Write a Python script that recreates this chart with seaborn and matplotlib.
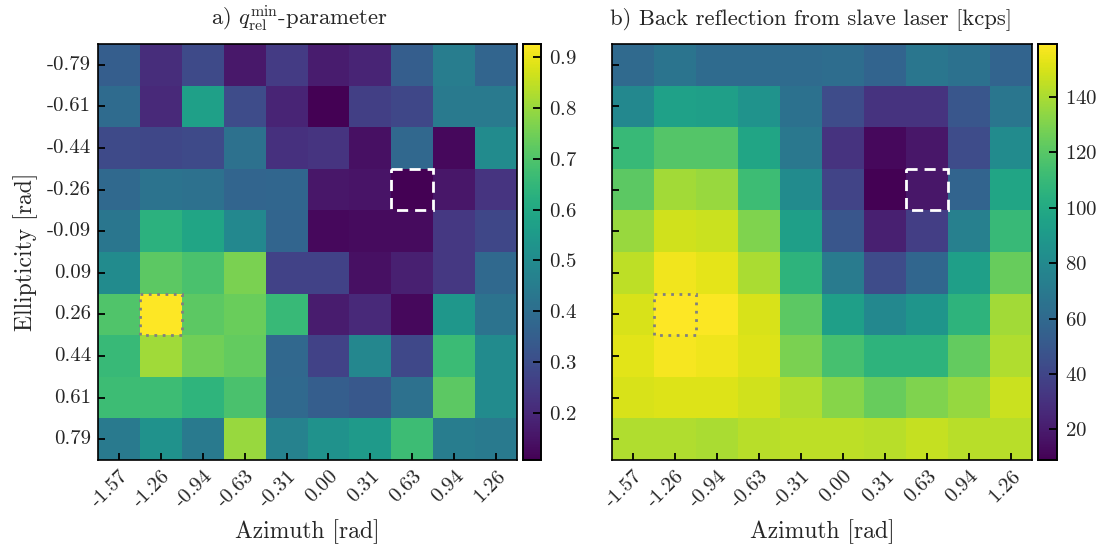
import numpy as np
import pandas as pd
import matplotlib
matplotlib.use("Agg")
import matplotlib.pyplot as plt
import matplotlib.patches as patches
import seaborn as sns

azimuth = ["-1.57", "-1.26", "-0.94", "-0.63", "-0.31", "0.00", "0.31", "0.63", "0.94", "1.26"]
ellipticity = ["-0.79", "-0.61", "-0.44", "-0.26", "-0.09", "0.09", "0.26", "0.44", "0.61", "0.79"]

q_rel_min = [
    [0.35, 0.21, 0.29, 0.16, 0.25, 0.17, 0.19, 0.35, 0.45, 0.37],
    [0.39, 0.20, 0.57, 0.295, 0.19, 0.107, 0.26, 0.28, 0.44, 0.44],
    [0.29, 0.28, 0.29, 0.41, 0.22, 0.23, 0.14, 0.38, 0.125, 0.50],
    [0.385, 0.42, 0.41, 0.37, 0.375, 0.155, 0.15, 0.11, 0.155, 0.23],
    [0.43, 0.63, 0.59, 0.49, 0.37, 0.125, 0.13, 0.13, 0.24, 0.28],
    [0.50, 0.72, 0.69, 0.76, 0.27, 0.27, 0.14, 0.18, 0.24, 0.385],
    [0.70, 0.926, 0.72, 0.74, 0.66, 0.17, 0.20, 0.125, 0.54, 0.42],
    [0.66, 0.81, 0.75, 0.73, 0.38, 0.27, 0.485, 0.285, 0.665, 0.50],
    [0.67, 0.67, 0.64, 0.69, 0.385, 0.35, 0.33, 0.41, 0.72, 0.50],
    [0.44, 0.52, 0.44, 0.80, 0.47, 0.525, 0.55, 0.67, 0.45, 0.44],
]

back_reflection = [
    [60, 67, 61, 61, 61, 62, 57, 68, 65, 57],
    [79, 94, 93, 86, 65, 43, 31, 31, 49, 68],
    [110, 119, 119, 97, 69, 31, 12, 18, 43, 81],
    [121, 138, 136, 112, 81, 39, 9, 18, 57, 97],
    [136, 148, 147, 130, 93, 49, 22, 36, 74, 110],
    [144, 156, 153, 140, 106, 71, 43, 58, 93, 124],
    [150, 159, 158, 150, 121, 93, 79, 87, 106, 138],
    [152, 157, 155, 151, 129, 115, 106, 106, 123, 141],
    [150, 151, 151, 148, 141, 132, 124, 130, 135, 147],
    [141, 141, 140, 143, 144, 144, 143, 146, 143, 143],
]

sns.set_theme(style="white")
plt.rcParams["font.family"] = "serif"
plt.rcParams["font.serif"] = ["cmr10", "DejaVu Serif"]
plt.rcParams["mathtext.fontset"] = "cm"
plt.rcParams["axes.unicode_minus"] = False
plt.rcParams["axes.formatter.use_mathtext"] = True

W, H = 1104, 546
fig = plt.figure(figsize=(W / 100, H / 100), dpi=100)

def box(x0, y0, x1, y1):
    return [x0 / W, 1 - y1 / H, (x1 - x0) / W, (y1 - y0) / H]

ax1 = fig.add_axes(box(98, 44, 517, 460))
cax1 = fig.add_axes(box(523, 44, 541, 460))
ax2 = fig.add_axes(box(612, 44, 1032, 460))
cax2 = fig.add_axes(box(1038, 44, 1057, 460))

df1 = pd.DataFrame(q_rel_min, index=ellipticity, columns=azimuth)
df2 = pd.DataFrame(back_reflection, index=ellipticity, columns=azimuth)

sns.heatmap(df1, ax=ax1, cbar_ax=cax1, cmap="viridis", square=False)
sns.heatmap(df2, ax=ax2, cbar_ax=cax2, cmap="viridis", square=False)

TICK = 15
for ax in (ax1, ax2):
    ax.set_axisbelow(False)
    for sp in ax.spines.values():
        sp.set_visible(True)
        sp.set_color("black")
        sp.set_linewidth(1.2)
        sp.set_zorder(5)
    ax.tick_params(axis="both", direction="in", length=5, width=1.3, color="black",
                   labelsize=TICK, left=True, bottom=True, pad=5)
    ax.set_xticklabels(azimuth, rotation=45, ha="right", rotation_mode="anchor")
    ax.set_xlabel("Azimuth [rad]", fontsize=17, labelpad=6)
    # dashed white box (minimum) and dotted grey box (maximum)
    ax.add_patch(patches.Rectangle((7, 3), 1, 1, fill=False, edgecolor="white",
                                   linestyle=(0, (4, 2.5)), linewidth=2, zorder=4))
    ax.add_patch(patches.Rectangle((1, 6), 1, 1, fill=False, edgecolor="#808080",
                                   linestyle=(0, (1, 2)), linewidth=2, zorder=4))

ax1.set_yticklabels(ellipticity, rotation=0)
ax1.set_ylabel("Ellipticity [rad]", fontsize=17, labelpad=6)
ax2.set_yticklabels([])
ax2.set_ylabel("")

t1 = ax1.set_title(r"a) $q_{\rm rel}^{\rm min}$-parameter", fontsize=16.3, pad=14)
t2 = ax2.set_title("b) Back reflection from slave laser [kcps]", fontsize=16.3, pad=14)
t1.set_x(0.48)
t2.set_x(0.475)

for cax in (cax1, cax2):
    cax.set_axisbelow(False)
    cax.tick_params(direction="in", length=6, width=1.3, color="black", labelsize=TICK,
                    right=True, pad=6)
    for sp in cax.spines.values():
        sp.set_visible(True)
        sp.set_color("black")
        sp.set_linewidth(1.2)

for cb_ax in (ax1, ax2):
    cbar = cb_ax.collections[0].colorbar
    cbar.outline.set_visible(True)
    cbar.outline.set_linewidth(1.2)
    cbar.outline.set_edgecolor("black")

fig.savefig("out.png", dpi=100)
